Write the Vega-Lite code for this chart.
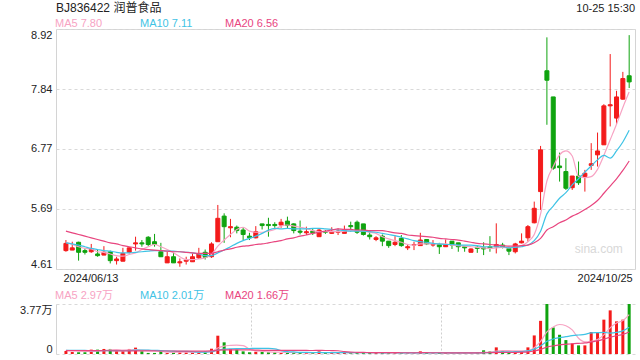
{
  "$schema": "https://vega.github.io/schema/vega-lite/v6.json",
  "padding": {"left": 0, "top": 1, "right": 6, "bottom": 2},
  "background": "white",
  "config": {
    "font": "Liberation Sans, Noto Sans CJK SC",
    "view": {"stroke": null},
    "axis": {"labelFont": "Liberation Sans, Noto Sans CJK SC", "labelFontSize": 11, "labelColor": "#222", "ticks": false, "domain": false, "title": null, "labelPadding": 4, "gridColor": "#d9d9d9", "gridDash": [3, 3]},
    "axisY": {"minExtent": 55, "maxExtent": 55},
    "legend": {"orient": "top", "direction": "horizontal", "title": null, "symbolSize": 0, "symbolOpacity": 0, "symbolStrokeWidth": 0, "labelOffset": -12, "labelFontSize": 11, "labelFont": "Liberation Sans, Noto Sans CJK SC", "gridAlign": "all", "columnPadding": 20, "padding": 0, "offset": 0}
  },
  "title": {"text": "10-25 15:30", "anchor": "end", "frame": "group", "fontSize": 11, "fontWeight": "normal", "color": "#222", "font": "Liberation Sans", "offset": -12},
  "datasets": {
    "k": [
      {"i":1,"o":4.94,"h":5.13,"l":4.92,"c":5.07,"v":2300,"ma5":5.09,"ma10":5.08,"ma20":5.29,"vma5":2800,"vma10":2800,"vma20":2600},
      {"i":2,"o":4.95,"h":5.10,"l":4.95,"c":4.99,"v":1500,"ma5":5.05,"ma10":5.06,"ma20":5.26,"vma5":2600,"vma10":2800,"vma20":2600},
      {"i":3,"o":5.09,"h":5.10,"l":4.76,"c":4.91,"v":1300,"ma5":5.01,"ma10":5.04,"ma20":5.23,"vma5":2300,"vma10":2700,"vma20":2550},
      {"i":4,"o":4.94,"h":4.98,"l":4.87,"c":4.91,"v":1300,"ma5":4.98,"ma10":5.01,"ma20":5.20,"vma5":2100,"vma10":2700,"vma20":2550},
      {"i":5,"o":4.92,"h":5.06,"l":4.90,"c":4.96,"v":3300,"ma5":4.97,"ma10":4.98,"ma20":5.17,"vma5":1940,"vma10":2600,"vma20":2500},
      {"i":6,"o":4.88,"h":4.96,"l":4.83,"c":4.85,"v":3300,"ma5":4.92,"ma10":4.96,"ma20":5.14,"vma5":2140,"vma10":2600,"vma20":2500},
      {"i":7,"o":4.86,"h":5.02,"l":4.86,"c":4.91,"v":3800,"ma5":4.91,"ma10":4.94,"ma20":5.11,"vma5":2600,"vma10":2600,"vma20":2450},
      {"i":8,"o":4.92,"h":4.94,"l":4.71,"c":4.76,"v":3800,"ma5":4.88,"ma10":4.93,"ma20":5.08,"vma5":3100,"vma10":2500,"vma20":2450},
      {"i":9,"o":4.76,"h":4.83,"l":4.69,"c":4.79,"v":2000,"ma5":4.85,"ma10":4.91,"ma20":5.06,"vma5":3240,"vma10":2500,"vma20":2400},
      {"i":10,"o":4.75,"h":4.99,"l":4.75,"c":4.89,"v":2000,"ma5":4.84,"ma10":4.90,"ma20":5.03,"vma5":2980,"vma10":2460,"vma20":2400},
      {"i":11,"o":4.91,"h":5.00,"l":4.89,"c":4.99,"v":3800,"ma5":4.87,"ma10":4.90,"ma20":5.01,"vma5":3080,"vma10":2610,"vma20":2350},
      {"i":12,"o":5.06,"h":5.19,"l":4.94,"c":5.08,"v":4800,"ma5":4.90,"ma10":4.91,"ma20":4.99,"vma5":3280,"vma10":2940,"vma20":2350},
      {"i":13,"o":5.08,"h":5.13,"l":5.01,"c":5.06,"v":2000,"ma5":4.96,"ma10":4.92,"ma20":4.97,"vma5":2920,"vma10":3010,"vma20":2300},
      {"i":14,"o":5.18,"h":5.20,"l":5.02,"c":5.05,"v":800,"ma5":5.01,"ma10":4.93,"ma20":4.96,"vma5":2680,"vma10":2960,"vma20":2300},
      {"i":15,"o":5.10,"h":5.24,"l":5.01,"c":5.05,"v":800,"ma5":5.05,"ma10":4.94,"ma20":4.95,"vma5":2440,"vma10":2710,"vma20":2300},
      {"i":16,"o":4.92,"h":5.08,"l":4.83,"c":4.83,"v":2300,"ma5":5.01,"ma10":4.94,"ma20":4.94,"vma5":2140,"vma10":2610,"vma20":2250},
      {"i":17,"o":4.72,"h":4.92,"l":4.72,"c":4.83,"v":800,"ma5":4.96,"ma10":4.93,"ma20":4.93,"vma5":1340,"vma10":2310,"vma20":2250},
      {"i":18,"o":4.83,"h":4.90,"l":4.72,"c":4.72,"v":1700,"ma5":4.90,"ma10":4.93,"ma20":4.92,"vma5":1280,"vma10":2100,"vma20":2250},
      {"i":19,"o":4.72,"h":4.80,"l":4.65,"c":4.74,"v":1300,"ma5":4.83,"ma10":4.92,"ma20":4.92,"vma5":1380,"vma10":2030,"vma20":2200},
      {"i":20,"o":4.75,"h":4.83,"l":4.69,"c":4.77,"v":1300,"ma5":4.78,"ma10":4.91,"ma20":4.91,"vma5":1480,"vma10":1960,"vma20":2210},
      {"i":21,"o":4.74,"h":4.89,"l":4.74,"c":4.83,"v":1300,"ma5":4.78,"ma10":4.90,"ma20":4.90,"vma5":1280,"vma10":1710,"vma20":2160},
      {"i":22,"o":4.81,"h":4.99,"l":4.79,"c":4.88,"v":1300,"ma5":4.79,"ma10":4.88,"ma20":4.89,"vma5":1380,"vma10":1360,"vma20":2150},
      {"i":23,"o":4.91,"h":4.96,"l":4.78,"c":4.82,"v":2000,"ma5":4.81,"ma10":4.85,"ma20":4.89,"vma5":1440,"vma10":1360,"vma20":2185},
      {"i":24,"o":4.83,"h":5.09,"l":4.81,"c":5.06,"v":4000,"ma5":4.87,"ma10":4.85,"ma20":4.89,"vma5":1980,"vma10":1680,"vma20":2320},
      {"i":25,"o":5.10,"h":5.76,"l":5.10,"c":5.52,"v":13800,"ma5":5.02,"ma10":4.90,"ma20":4.92,"vma5":4480,"vma10":2980,"vma20":2845},
      {"i":26,"o":5.56,"h":5.61,"l":5.08,"c":5.37,"v":8800,"ma5":5.13,"ma10":4.95,"ma20":4.95,"vma5":5980,"vma10":3630,"vma20":3120},
      {"i":27,"o":5.35,"h":5.51,"l":5.18,"c":5.37,"v":3800,"ma5":5.23,"ma10":5.01,"ma20":4.97,"vma5":6480,"vma10":3930,"vma20":3120},
      {"i":28,"o":5.36,"h":5.39,"l":5.25,"c":5.30,"v":3300,"ma5":5.32,"ma10":5.07,"ma20":5.00,"vma5":6740,"vma10":4090,"vma20":3095},
      {"i":29,"o":5.31,"h":5.36,"l":5.13,"c":5.23,"v":2000,"ma5":5.36,"ma10":5.12,"ma20":5.02,"vma5":6340,"vma10":4160,"vma20":3095},
      {"i":30,"o":5.20,"h":5.26,"l":5.13,"c":5.17,"v":1300,"ma5":5.29,"ma10":5.16,"ma20":5.03,"vma5":3840,"vma10":4160,"vma20":3060},
      {"i":31,"o":5.17,"h":5.38,"l":5.16,"c":5.28,"v":1700,"ma5":5.27,"ma10":5.20,"ma20":5.05,"vma5":2420,"vma10":4200,"vma20":2955},
      {"i":32,"o":5.42,"h":5.42,"l":5.32,"c":5.39,"v":1700,"ma5":5.27,"ma10":5.25,"ma20":5.06,"vma5":2000,"vma10":4240,"vma20":2800},
      {"i":33,"o":5.41,"h":5.53,"l":5.19,"c":5.39,"v":1300,"ma5":5.29,"ma10":5.31,"ma20":5.08,"vma5":1600,"vma10":4170,"vma20":2765},
      {"i":34,"o":5.41,"h":5.45,"l":5.35,"c":5.39,"v":1300,"ma5":5.32,"ma10":5.34,"ma20":5.10,"vma5":1460,"vma10":3900,"vma20":2790},
      {"i":35,"o":5.40,"h":5.51,"l":5.35,"c":5.45,"v":800,"ma5":5.38,"ma10":5.33,"ma20":5.12,"vma5":1360,"vma10":2600,"vma20":2790},
      {"i":36,"o":5.47,"h":5.55,"l":5.34,"c":5.39,"v":800,"ma5":5.40,"ma10":5.34,"ma20":5.15,"vma5":1180,"vma10":1800,"vma20":2715},
      {"i":37,"o":5.42,"h":5.43,"l":5.25,"c":5.30,"v":1300,"ma5":5.38,"ma10":5.33,"ma20":5.17,"vma5":1100,"vma10":1550,"vma20":2740},
      {"i":38,"o":5.29,"h":5.48,"l":5.23,"c":5.27,"v":800,"ma5":5.36,"ma10":5.33,"ma20":5.20,"vma5":1000,"vma10":1300,"vma20":2695},
      {"i":39,"o":5.26,"h":5.37,"l":5.22,"c":5.28,"v":800,"ma5":5.34,"ma10":5.33,"ma20":5.22,"vma5":900,"vma10":1180,"vma20":2670},
      {"i":40,"o":5.29,"h":5.34,"l":5.22,"c":5.26,"v":800,"ma5":5.30,"ma10":5.34,"ma20":5.25,"vma5":900,"vma10":1130,"vma20":2645},
      {"i":41,"o":5.19,"h":5.34,"l":5.19,"c":5.31,"v":2000,"ma5":5.28,"ma10":5.34,"ma20":5.27,"vma5":1140,"vma10":1160,"vma20":2680},
      {"i":42,"o":5.28,"h":5.31,"l":5.24,"c":5.27,"v":800,"ma5":5.28,"ma10":5.33,"ma20":5.29,"vma5":1040,"vma10":1070,"vma20":2655},
      {"i":43,"o":5.25,"h":5.36,"l":5.24,"c":5.28,"v":800,"ma5":5.28,"ma10":5.32,"ma20":5.31,"vma5":1040,"vma10":1020,"vma20":2595},
      {"i":44,"o":5.27,"h":5.34,"l":5.22,"c":5.29,"v":1000,"ma5":5.28,"ma10":5.31,"ma20":5.33,"vma5":1080,"vma10":990,"vma20":2445},
      {"i":45,"o":5.25,"h":5.39,"l":5.25,"c":5.31,"v":1000,"ma5":5.29,"ma10":5.30,"ma20":5.32,"vma5":1120,"vma10":1010,"vma20":1805},
      {"i":46,"o":5.39,"h":5.46,"l":5.28,"c":5.37,"v":800,"ma5":5.30,"ma10":5.29,"ma20":5.32,"vma5":880,"vma10":1010,"vma20":1405},
      {"i":47,"o":5.45,"h":5.48,"l":5.24,"c":5.27,"v":1300,"ma5":5.30,"ma10":5.29,"ma20":5.31,"vma5":980,"vma10":1010,"vma20":1280},
      {"i":48,"o":5.42,"h":5.42,"l":5.21,"c":5.23,"v":1000,"ma5":5.29,"ma10":5.29,"ma20":5.31,"vma5":1020,"vma10":1030,"vma20":1165},
      {"i":49,"o":5.22,"h":5.28,"l":5.14,"c":5.19,"v":800,"ma5":5.27,"ma10":5.28,"ma20":5.30,"vma5":980,"vma10":1030,"vma20":1105},
      {"i":50,"o":5.14,"h":5.20,"l":5.11,"c":5.17,"v":800,"ma5":5.25,"ma10":5.27,"ma20":5.30,"vma5":940,"vma10":1030,"vma20":1080},
      {"i":51,"o":5.20,"h":5.23,"l":5.02,"c":5.11,"v":800,"ma5":5.19,"ma10":5.25,"ma20":5.30,"vma5":940,"vma10":910,"vma20":1035},
      {"i":52,"o":5.11,"h":5.11,"l":4.99,"c":5.03,"v":1000,"ma5":5.15,"ma10":5.23,"ma20":5.28,"vma5":880,"vma10":930,"vma20":1000},
      {"i":53,"o":5.05,"h":5.20,"l":5.02,"c":5.09,"v":800,"ma5":5.12,"ma10":5.21,"ma20":5.26,"vma5":840,"vma10":930,"vma20":975},
      {"i":54,"o":5.16,"h":5.22,"l":5.01,"c":5.03,"v":800,"ma5":5.09,"ma10":5.18,"ma20":5.25,"vma5":840,"vma10":910,"vma20":950},
      {"i":55,"o":4.99,"h":5.06,"l":4.95,"c":5.01,"v":600,"ma5":5.05,"ma10":5.15,"ma20":5.22,"vma5":800,"vma10":870,"vma20":940},
      {"i":56,"o":5.04,"h":5.10,"l":4.95,"c":5.05,"v":600,"ma5":5.04,"ma10":5.12,"ma20":5.21,"vma5":760,"vma10":850,"vma20":930},
      {"i":57,"o":5.03,"h":5.26,"l":5.03,"c":5.13,"v":2000,"ma5":5.06,"ma10":5.10,"ma20":5.20,"vma5":960,"vma10":920,"vma20":965},
      {"i":58,"o":5.14,"h":5.14,"l":5.04,"c":5.06,"v":800,"ma5":5.06,"ma10":5.09,"ma20":5.19,"vma5":960,"vma10":900,"vma20":965},
      {"i":59,"o":5.04,"h":5.13,"l":5.01,"c":5.05,"v":600,"ma5":5.06,"ma10":5.07,"ma20":5.18,"vma5":920,"vma10":880,"vma20":955},
      {"i":60,"o":5.05,"h":5.08,"l":4.88,"c":5.01,"v":800,"ma5":5.06,"ma10":5.06,"ma20":5.16,"vma5":960,"vma10":880,"vma20":955},
      {"i":61,"o":5.01,"h":5.14,"l":5.01,"c":5.05,"v":600,"ma5":5.06,"ma10":5.05,"ma20":5.15,"vma5":960,"vma10":860,"vma20":885},
      {"i":62,"o":5.11,"h":5.11,"l":4.97,"c":5.04,"v":600,"ma5":5.04,"ma10":5.05,"ma20":5.14,"vma5":680,"vma10":820,"vma20":875},
      {"i":63,"o":5.08,"h":5.08,"l":4.92,"c":5.01,"v":800,"ma5":5.03,"ma10":5.04,"ma20":5.13,"vma5":680,"vma10":820,"vma20":875},
      {"i":64,"o":5.01,"h":5.02,"l":4.92,"c":4.99,"v":600,"ma5":5.02,"ma10":5.04,"ma20":5.11,"vma5":680,"vma10":800,"vma20":855},
      {"i":65,"o":4.91,"h":4.98,"l":4.91,"c":4.97,"v":600,"ma5":5.01,"ma10":5.04,"ma20":5.09,"vma5":680,"vma10":820,"vma20":845},
      {"i":66,"o":5.00,"h":5.02,"l":4.90,"c":4.98,"v":1000,"ma5":5.00,"ma10":5.03,"ma20":5.07,"vma5":720,"vma10":840,"vma20":845},
      {"i":67,"o":4.99,"h":5.09,"l":4.86,"c":4.97,"v":2800,"ma5":4.99,"ma10":5.01,"ma20":5.06,"vma5":1160,"vma10":920,"vma20":920},
      {"i":68,"o":5.01,"h":5.20,"l":4.92,"c":4.98,"v":2000,"ma5":4.98,"ma10":5.01,"ma20":5.05,"vma5":1400,"vma10":1040,"vma20":970},
      {"i":69,"o":5.01,"h":5.43,"l":4.89,"c":5.05,"v":5000,"ma5":4.99,"ma10":5.01,"ma20":5.04,"vma5":2280,"vma10":1480,"vma20":1180},
      {"i":70,"o":5.04,"h":5.08,"l":4.98,"c":5.01,"v":2000,"ma5":5.00,"ma10":5.01,"ma20":5.03,"vma5":2560,"vma10":1620,"vma20":1250},
      {"i":71,"o":4.98,"h":5.01,"l":4.86,"c":4.93,"v":1200,"ma5":4.99,"ma10":4.99,"ma20":5.02,"vma5":2600,"vma10":1660,"vma20":1260},
      {"i":72,"o":4.92,"h":5.08,"l":4.89,"c":5.06,"v":1500,"ma5":5.01,"ma10":5.00,"ma20":5.02,"vma5":2340,"vma10":1750,"vma20":1285},
      {"i":73,"o":5.08,"h":5.25,"l":5.07,"c":5.11,"v":2000,"ma5":5.03,"ma10":5.01,"ma20":5.03,"vma5":2340,"vma10":1870,"vma20":1345},
      {"i":74,"o":5.17,"h":5.40,"l":5.10,"c":5.37,"v":5000,"ma5":5.10,"ma10":5.04,"ma20":5.04,"vma5":2340,"vma10":2310,"vma20":1555},
      {"i":75,"o":5.44,"h":5.82,"l":5.43,"c":5.70,"v":14000,"ma5":5.23,"ma10":5.12,"ma20":5.08,"vma5":4740,"vma10":3650,"vma20":2235},
      {"i":76,"o":6.00,"h":6.82,"l":5.67,"c":6.75,"v":25000,"ma5":5.60,"ma10":5.29,"ma20":5.16,"vma5":9500,"vma10":6050,"vma20":3445},
      {"i":77,"o":8.17,"h":8.77,"l":7.20,"c":8.00,"v":37700,"ma5":6.19,"ma10":5.60,"ma20":5.31,"vma5":16740,"vma10":9540,"vma20":5230},
      {"i":78,"o":7.70,"h":7.70,"l":6.39,"c":6.42,"v":20000,"ma5":6.45,"ma10":5.74,"ma20":5.37,"vma5":20340,"vma10":11340,"vma20":6190},
      {"i":79,"o":6.46,"h":6.70,"l":6.18,"c":6.43,"v":14500,"ma5":6.66,"ma10":5.88,"ma20":5.44,"vma5":22240,"vma10":12290,"vma20":6885},
      {"i":80,"o":6.36,"h":6.60,"l":6.03,"c":6.06,"v":10500,"ma5":6.73,"ma10":5.98,"ma20":5.49,"vma5":21340,"vma10":13040,"vma20":7330},
      {"i":81,"o":6.07,"h":6.28,"l":6.03,"c":6.28,"v":8000,"ma5":6.64,"ma10":6.12,"ma20":5.56,"vma5":18140,"vma10":13820,"vma20":7740},
      {"i":82,"o":6.28,"h":6.54,"l":6.12,"c":6.16,"v":6500,"ma5":6.27,"ma10":6.23,"ma20":5.61,"vma5":11900,"vma10":14320,"vma20":8035},
      {"i":83,"o":6.27,"h":6.39,"l":6.00,"c":6.33,"v":6500,"ma5":6.25,"ma10":6.35,"ma20":5.68,"vma5":9200,"vma10":14770,"vma20":8320},
      {"i":84,"o":6.47,"h":6.87,"l":6.39,"c":6.50,"v":16600,"ma5":6.27,"ma10":6.46,"ma20":5.75,"vma5":9620,"vma10":15930,"vma20":9120},
      {"i":85,"o":6.66,"h":7.06,"l":6.45,"c":6.73,"v":16600,"ma5":6.40,"ma10":6.57,"ma20":5.84,"vma5":10840,"vma10":16090,"vma20":9870},
      {"i":86,"o":6.84,"h":7.57,"l":6.84,"c":7.54,"v":25900,"ma5":6.65,"ma10":6.65,"ma20":5.97,"vma5":14420,"vma10":16280,"vma20":11165},
      {"i":87,"o":7.54,"h":8.47,"l":7.17,"c":7.56,"v":32900,"ma5":6.93,"ma10":6.60,"ma20":6.10,"vma5":19700,"vma10":15800,"vma20":12670},
      {"i":88,"o":7.32,"h":7.81,"l":7.21,"c":7.70,"v":24600,"ma5":7.21,"ma10":6.73,"ma20":6.23,"vma5":23320,"vma10":16260,"vma20":13800},
      {"i":89,"o":7.66,"h":8.15,"l":7.65,"c":8.03,"v":25900,"ma5":7.51,"ma10":6.89,"ma20":6.38,"vma5":25180,"vma10":17400,"vma20":14845},
      {"i":90,"o":8.08,"h":8.81,"l":7.86,"c":7.97,"v":37700,"ma5":7.79,"ma10":7.10,"ma20":6.55,"vma5":29700,"vma10":20100,"vma20":16600}
    ]
  },
  "spacing": 6,
  "resolve": {"scale": {"color": "independent", "x": "independent", "y": "independent"}, "legend": {"color": "independent"}},
  "vconcat": [
    {
      "width": 579,
      "height": 240,
      "title": {"text": "BJ836422 润普食品", "anchor": "start", "frame": "group", "fontSize": 12, "fontWeight": "normal", "color": "#222", "offset": 3},
      "view": {"stroke": "#d4d4d4"},
      "layer": [
        {
          "data": {"name": "k"},
          "mark": {"type": "rule", "strokeWidth": 1},
          "encoding": {
            "x": {"field": "i", "type": "quantitative", "scale": {"domain": [0.22, 90.13], "nice": false, "zero": false},
                  "axis": {"values": [1, 90], "labelExpr": "datum.value < 45 ? '2024/06/13' : '2024/10/25'", "labelFlush": 10, "labelFlushOffset": 3, "grid": false, "labelPadding": 3}},
            "y": {"field": "l", "type": "quantitative", "scale": {"domain": [4.61, 8.92], "nice": false, "zero": false},
                  "axis": {"values": [4.61, 5.69, 6.77, 7.84, 8.92], "format": ".2f", "labelFlush": true, "grid": true}},
            "y2": {"field": "h"},
            "color": {"condition": {"test": "datum.c >= datum.o", "value": "#f31b1b"}, "value": "#0fa30f"}
          }
        },
        {
          "data": {"name": "k"},
          "mark": {"type": "bar", "width": 4, "strokeWidth": 1},
          "encoding": {
            "x": {"field": "i", "type": "quantitative"},
            "y": {"field": "o", "type": "quantitative"},
            "y2": {"field": "c"},
            "fill": {"condition": {"test": "datum.c >= datum.o", "value": "#f31b1b"}, "value": "#0fa30f"},
            "stroke": {"condition": {"test": "datum.c >= datum.o", "value": "#f31b1b"}, "value": "#0fa30f"}
          }
        },
        {
          "data": {"name": "k"},
          "transform": [{"fold": ["ma5", "ma10", "ma20"], "as": ["ma", "val"]}],
          "mark": {"type": "line", "strokeWidth": 1.2, "interpolate": "monotone"},
          "encoding": {
            "x": {"field": "i", "type": "quantitative"},
            "y": {"field": "val", "type": "quantitative"},
            "color": {"field": "ma", "type": "nominal", "scale": {"domain": ["ma5", "ma10", "ma20"], "range": ["#f7a3c3", "#3fc3e5", "#e8457f"]},
                      "legend": {"columnPadding": 31, "labelExpr": "datum.value == 'ma5' ? 'MA5 7.80' : datum.value == 'ma10' ? 'MA10 7.11' : 'MA20 6.56'",
                                 "encode": {"labels": {"update": {"fill": {"signal": "datum.value == 'ma5' ? '#f7a3c3' : datum.value == 'ma10' ? '#3fc3e5' : '#e8457f'"}}}}}}
          }
        },
        {
          "data": {"values": [{"label": "sina.com"}]},
          "mark": {"type": "text", "fontSize": 12, "color": "#d8d8d8", "font": "Liberation Sans"},
          "encoding": {
            "x": {"datum": 85.2, "type": "quantitative"},
            "y": {"datum": 4.97, "type": "quantitative"},
            "text": {"field": "label"}
          }
        }
      ]
    },
    {
      "width": 579,
      "height": 50,
      "layer": [
        {
          "data": {"name": "k"},
          "mark": {"type": "bar", "width": 3},
          "encoding": {
            "x": {"field": "i", "type": "quantitative", "scale": {"domain": [0.22, 90.13], "nice": false, "zero": false},
                  "axis": {"values": [30.2, 60.2], "labels": false, "grid": true, "gridDash": [2, 2], "gridColor": "#cfcfcf"}},
            "y": {"field": "v", "type": "quantitative", "scale": {"domain": [0, 37700], "nice": false},
                  "axis": {"values": [0, 37700], "labelExpr": "datum.value == 0 ? '0' : '3.77万'", "labelFlush": true, "grid": true, "domain": true, "domainColor": "#d4d4d4"}},
            "fill": {"condition": {"test": "datum.c >= datum.o", "value": "#f31b1b"}, "value": "#0fa30f"}
          }
        },
        {
          "data": {"name": "k"},
          "transform": [{"fold": ["vma5", "vma10", "vma20"], "as": ["vma", "vval"]}],
          "mark": {"type": "line", "strokeWidth": 1.2, "interpolate": "monotone"},
          "encoding": {
            "x": {"field": "i", "type": "quantitative"},
            "y": {"field": "vval", "type": "quantitative"},
            "color": {"field": "vma", "type": "nominal", "scale": {"domain": ["vma5", "vma10", "vma20"], "range": ["#f7a3c3", "#3fc3e5", "#e8457f"]},
                      "legend": {"offset": 3, "labelExpr": "datum.value == 'vma5' ? 'MA5 2.97万' : datum.value == 'vma10' ? 'MA10 2.01万' : 'MA20 1.66万'",
                                 "encode": {"labels": {"update": {"fill": {"signal": "datum.value == 'vma5' ? '#f7a3c3' : datum.value == 'vma10' ? '#3fc3e5' : '#e8457f'"}}}}}}
          }
        }
      ]
    }
  ]
}
